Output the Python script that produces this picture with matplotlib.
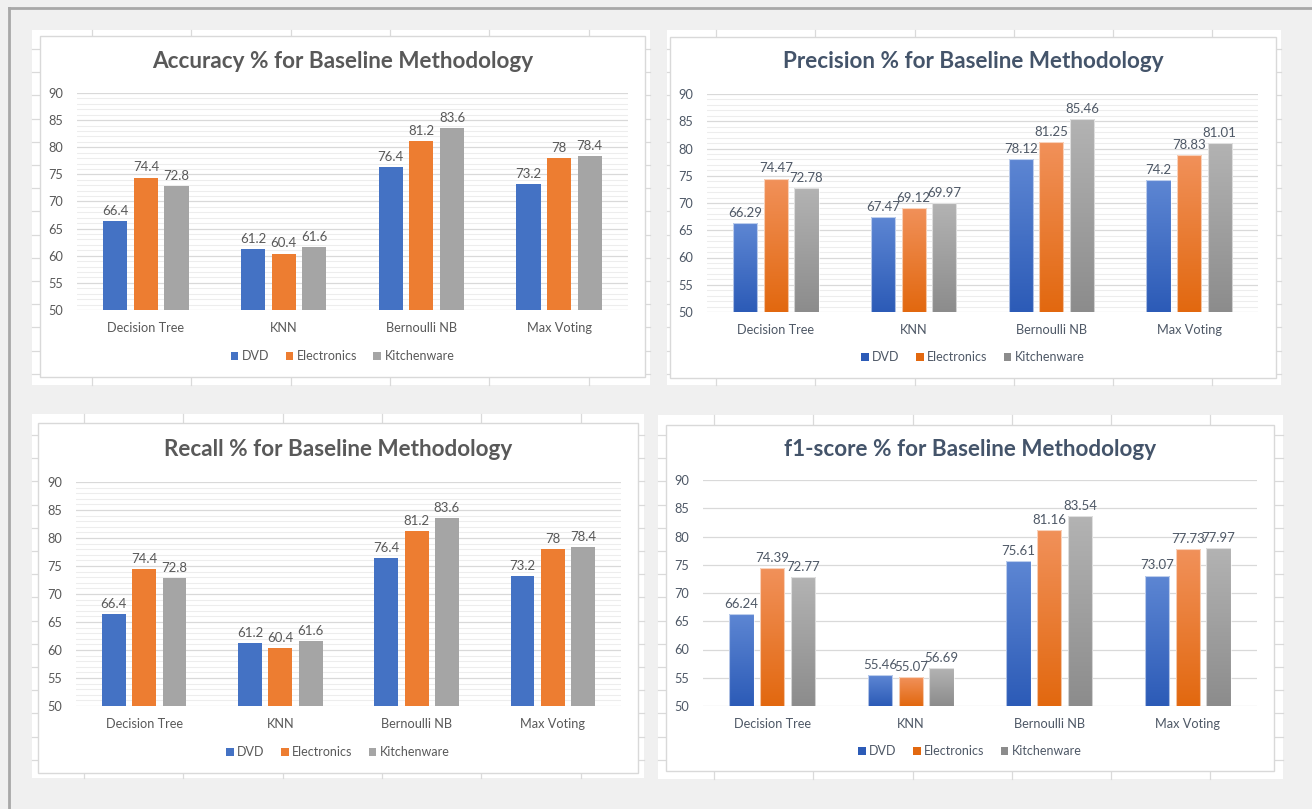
import numpy as np
import matplotlib
matplotlib.use("Agg")
import matplotlib.pyplot as plt
from matplotlib.patches import Rectangle
from matplotlib.lines import Line2D
from matplotlib.colors import LinearSegmentedColormap

plt.rcParams['font.family'] = ['Lato', 'DejaVu Sans']

W, H = 1312, 809

categories = ["Decision Tree", "KNN", "Bernoulli NB", "Max Voting"]
series_names = ["DVD", "Electronics", "Kitchenware"]

accuracy_dvd = [66.4, 61.2, 76.4, 73.2]
accuracy_electronics = [74.4, 60.4, 81.2, 78]
accuracy_kitchenware = [72.8, 61.6, 83.6, 78.4]

precision_dvd = [66.29, 67.47, 78.12, 74.2]
precision_electronics = [74.47, 69.12, 81.25, 78.83]
precision_kitchenware = [72.78, 69.97, 85.46, 81.01]

recall_dvd = [66.4, 61.2, 76.4, 73.2]
recall_electronics = [74.4, 60.4, 81.2, 78]
recall_kitchenware = [72.8, 61.6, 83.6, 78.4]

f1_dvd = [66.24, 55.46, 75.61, 73.07]
f1_electronics = [74.39, 55.07, 81.16, 77.73]
f1_kitchenware = [72.77, 56.69, 83.54, 77.97]

SOLID = ["#4472C4", "#ED7D31", "#A5A5A5"]
# (top, bottom) colours for the gradient style
GRAD = [("#5d86d3", "#2c5bb7"), ("#f1915a", "#e2680f"), ("#b3b3b3", "#8c8c8c")]


def fig_box(x0, y0, x1, y1):
    # pixel box (top-left origin) -> figure fraction [left, bottom, width, height]
    return [x0 / W, 1 - y1 / H, (x1 - x0) / W, (y1 - y0) / H]


def fig_rect(fig, x0, y0, x1, y1, **kw):
    l, b, w, h = fig_box(x0, y0, x1, y1)
    r = Rectangle((l, b), w, h, transform=fig.transFigure, **kw)
    fig.add_artist(r)
    return r


def fig_line(fig, xs, ys, **kw):
    ln = Line2D([x / W for x in xs], [1 - y / H for y in ys], transform=fig.transFigure, **kw)
    fig.add_artist(ln)


def gradient_bar(ax, rect, top, bottom, ymin):
    x0, w = rect.get_x(), rect.get_width()
    y1 = rect.get_y() + rect.get_height()
    cmap = LinearSegmentedColormap.from_list("bar", [bottom, top])
    grad = np.linspace(0, 1, 128).reshape(-1, 1)
    im = ax.imshow(grad, cmap=cmap, origin="lower", aspect="auto",
                   extent=(x0, x0 + w, ymin, y1), zorder=2, interpolation="bilinear")
    im.set_clip_path(rect)


def draw_sheet(fig, sheet, col_x0, row_y0):
    x0, y0, x1, y1 = sheet
    fig_rect(fig, x0, y0, x1, y1, facecolor="white", edgecolor="none", zorder=-5)
    for cx in np.arange(col_x0, x1, 99.3):
        fig_line(fig, [cx, cx], [y0, y1], color="#dadada", lw=0.9, zorder=-4)
    for ry in np.arange(row_y0, y1, 23.2):
        fig_line(fig, [x0, x1], [ry, ry], color="#dadada", lw=0.9, zorder=-4)


def draw_panel(fig, title, values, plot_box, border, title_y, legend_y,
               gradient=False, minor=True, title_color="#595959", text_color="#595959"):
    bx0, by0, bx1, by1 = border
    fig_rect(fig, bx0, by0, bx1, by1, facecolor="white", edgecolor="#d9d9d9", lw=1.0, zorder=-3)
    cx = (bx0 + bx1) / 2

    ax = fig.add_axes(fig_box(*plot_box))
    ax.set_facecolor("none")
    x = np.arange(len(categories))
    width = 0.175
    step = 0.2225
    handles = []
    for i, (name, vals) in enumerate(zip(series_names, values)):
        if gradient:
            bars = ax.bar(x + (i - 1) * step, vals, width, facecolor="none",
                          edgecolor=(1, 1, 1, 0.6), lw=0.8, zorder=3, label=name)
            for rect in bars:
                gradient_bar(ax, rect, GRAD[i][0], GRAD[i][1], 50)
            handles.append(Rectangle((0, 0), 1, 1, facecolor=GRAD[i][1], edgecolor="none"))
        else:
            ax.bar(x + (i - 1) * step, vals, width, color=SOLID[i], zorder=3, label=name)
            handles.append(Rectangle((0, 0), 1, 1, facecolor=SOLID[i], edgecolor="none"))
        for xi, v in zip(x + (i - 1) * step, vals):
            ax.annotate(f"{v:g}", (xi, v), xytext=(0, 3), textcoords="offset points",
                        ha="center", va="bottom", fontsize=9.5, color=text_color)

    ax.set_xlim(-0.5, len(categories) - 0.5)
    ax.set_ylim(50, 90)
    ax.set_yticks(np.arange(50, 91, 5))
    if minor:
        ax.set_yticks(np.arange(50, 91, 1), minor=True)
        ax.yaxis.grid(True, which="minor", color="#ededed", lw=0.8)
    ax.yaxis.grid(True, which="major", color="#d9d9d9", lw=0.9)
    ax.set_axisbelow(True)
    ax.set_xticks(x)
    ax.set_xticklabels(categories)
    ax.tick_params(axis="both", which="both", length=0, labelsize=9.2, labelcolor=text_color)
    ax.tick_params(axis="x", pad=9)
    ax.tick_params(axis="y", pad=10)
    for s in ax.spines.values():
        s.set_visible(False)

    fig.text(cx / W, 1 - title_y / H, title, ha="center", va="center",
             fontsize=16.2, fontweight="bold", color=title_color)
    leg = fig.legend(handles, series_names, loc="center", ncol=3, frameon=False,
                     bbox_to_anchor=(cx / W, 1 - legend_y / H), fontsize=9,
                     handlelength=0.6, handleheight=0.6, handletextpad=0.3,
                     columnspacing=1.3)
    for t in leg.get_texts():
        t.set_color(text_color)
    return ax


fig = plt.figure(figsize=(W / 100, H / 100), dpi=100)
fig.patch.set_facecolor("#f0f0f0")

# outer frame of the sheet window
fig_line(fig, [9, W], [8, 8], color="#a8a8a8", lw=2, zorder=-6)
fig_line(fig, [9, 9], [8, H], color="#a8a8a8", lw=2, zorder=-6)

draw_sheet(fig, (32, 30, 650, 385), 92, 49)
draw_sheet(fig, (667, 30, 1281, 385), 716, 49)
draw_sheet(fig, (32, 414, 644, 778), 84, 435)
draw_sheet(fig, (658, 415, 1283, 779), 714, 435)

draw_panel(fig, "Accuracy % for Baseline Methodology",
           [accuracy_dvd, accuracy_electronics, accuracy_kitchenware],
           (77, 93, 628, 310), (40, 36, 645, 377), 62, 356)
draw_panel(fig, "Precision % for Baseline Methodology",
           [precision_dvd, precision_electronics, precision_kitchenware],
           (707, 94, 1258, 312), (670, 37, 1276, 378), 62, 357,
           gradient=True, title_color="#44546A", text_color="#4e5866")
draw_panel(fig, "Recall % for Baseline Methodology",
           [recall_dvd, recall_electronics, recall_kitchenware],
           (76, 482, 621, 706), (38, 423, 638, 773), 450, 752)
draw_panel(fig, "f1-score % for Baseline Methodology",
           [f1_dvd, f1_electronics, f1_kitchenware],
           (703, 480, 1257, 706), (666, 425, 1274, 771), 450, 751,
           gradient=True, minor=False, title_color="#44546A", text_color="#4e5866")

fig.savefig("out.png", dpi=100, facecolor=fig.get_facecolor())
